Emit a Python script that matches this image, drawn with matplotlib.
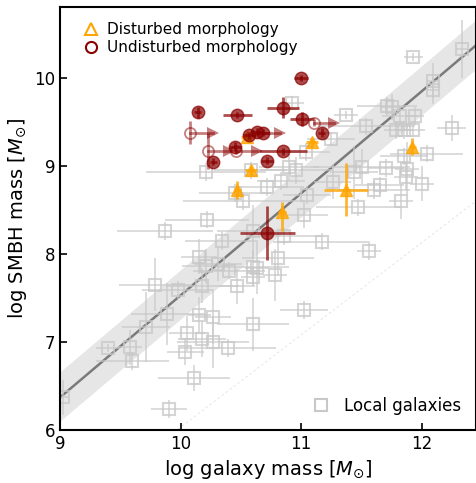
import numpy as np
import matplotlib
matplotlib.use("Agg")
import matplotlib.pyplot as plt
from matplotlib.lines import Line2D

# ── Local galaxies (log M*, log MBH, errors)
local_x = [12.33, 11.93, 12.09, 12.09, 12.25, 11.71, 11.75, 11.82, 11.94, 11.93,
           11.79, 11.85, 11.54, 11.37, 10.92, 11.25, 11.04, 10.96, 11.26, 11.50,
           11.44, 11.70, 11.88, 11.87, 12.04, 11.85, 11.65, 11.60, 11.83, 12.00,
           11.47, 11.05, 11.02, 10.90, 10.83, 10.72, 10.52, 10.45, 10.58, 10.21,
           10.22, 10.34, 10.60, 10.86, 11.17, 11.56, 10.81, 10.15, 10.21, 10.31,
           10.40, 10.60, 10.63, 10.60, 10.78, 10.47, 10.18, 9.98, 9.79, 9.87,
           9.89, 9.71, 10.05, 10.04, 10.18, 10.27, 10.39, 10.60, 10.15, 10.27,
           9.40, 9.58, 9.60, 9.02, 10.11, 9.90, 11.02]
local_y = [10.33, 10.24, 9.97, 9.86, 9.43, 9.68, 9.67, 9.57, 9.57, 9.41,
           9.41, 9.41, 9.45, 9.58, 9.72, 9.31, 9.16, 8.95, 8.82, 8.99,
           8.93, 8.98, 8.97, 8.88, 9.14, 9.11, 8.78, 8.73, 8.60, 8.80,
           8.53, 8.67, 8.44, 8.99, 8.83, 8.76, 8.60, 8.69, 8.95, 8.93,
           8.39, 8.15, 8.26, 8.20, 8.14, 8.03, 7.95, 7.97, 7.86, 7.89,
           7.81, 7.85, 7.84, 7.74, 7.76, 7.63, 7.64, 7.59, 7.65, 8.26,
           7.32, 7.17, 7.10, 6.89, 7.03, 7.00, 6.93, 7.20, 7.31, 7.28,
           6.93, 6.94, 6.78, 6.37, 6.59, 6.24, 7.36]
local_xerr = [0.05, 0.08, 0.05, 0.05, 0.12, 0.25, 0.10, 0.15, 0.08, 0.10,
              0.10, 0.08, 0.40, 0.10, 0.10, 0.20, 0.20, 0.30, 0.15, 0.40,
              0.20, 0.15, 0.10, 0.10, 0.30, 0.20, 0.20, 0.30, 0.10, 0.10,
              0.35, 0.20, 0.20, 0.25, 0.20, 0.30, 0.50, 0.30, 0.30, 0.50,
              0.35, 0.30, 0.30, 0.30, 0.40, 0.10, 0.30, 0.15, 0.20, 0.20,
              0.30, 0.30, 0.10, 0.10, 0.10, 0.15, 0.30, 0.30, 0.30, 0.40,
              0.30, 0.20, 0.15, 0.15, 0.20, 0.30, 0.40, 0.30, 0.10, 0.15,
              0.10, 0.10, 0.30, 0.05, 0.30, 0.15, 0.20]
local_yerr = [0.33, 0.05, 0.20, 0.15, 0.15, 0.10, 0.15, 0.10, 0.10, 0.08,
              0.10, 0.10, 0.10, 0.05, 0.08, 0.08, 0.10, 0.15, 0.20, 0.20,
              0.30, 0.10, 0.30, 0.15, 0.10, 0.10, 0.10, 0.10, 0.20, 0.20,
              0.10, 0.10, 0.15, 0.15, 0.10, 0.10, 0.10, 0.10, 0.10, 0.10,
              0.10, 0.10, 0.30, 0.10, 0.10, 0.10, 0.20, 0.20, 0.20, 0.20,
              0.10, 0.20, 0.30, 0.10, 0.30, 0.20, 0.20, 0.10, 0.30, 0.10,
              0.35, 0.40, 0.20, 0.15, 0.20, 0.30, 0.10, 0.30, 0.20, 0.30,
              0.05, 0.20, 0.10, 0.20, 0.15, 0.10, 0.10]

# ── Disturbed morphology
dist_x = [10.55, 10.58, 10.47, 10.84, 11.09, 11.37, 11.92]
dist_y = [9.33, 8.95, 8.73, 8.48, 9.27, 8.73, 9.22]
dist_xerr = [0.05, 0.05, 0.03, 0.03, 0.05, 0.18, 0.03]
dist_yerr_lo = [0.06, 0.05, 0.10, 0.22, 0.05, 0.30, 0.10]
dist_yerr_hi = [0.06, 0.05, 0.10, 0.11, 0.05, 0.30, 0.10]

# ── Undisturbed morphology (detections)
und_x = [11.00, 10.14, 10.47, 10.85, 11.01, 11.17, 10.57, 10.63, 10.68,
         10.45, 10.85, 10.72, 10.27, 10.72]
und_y = [10.00, 9.61, 9.58, 9.66, 9.53, 9.38, 9.35, 9.39, 9.38,
         9.22, 9.17, 9.06, 9.05, 8.24]
und_xerr = [0.06, 0.03, 0.12, 0.13, 0.10, 0.03, 0.05, 0.05, 0.05,
            0.05, 0.20, 0.05, 0.03, 0.23]
und_yerr = [0.03, 0.06, 0.03, 0.12, 0.08, 0.05, 0.04, 0.04, 0.04,
            0.05, 0.04, 0.04, 0.04, 0.31]

# ── Undisturbed morphology (lower limits on galaxy mass)
lim_x = [10.08, 10.23, 10.46, 11.11]
lim_y = [9.38, 9.17, 9.17, 9.49]
lim_yerr = [0.13, 0.20, 0.03, 0.04]
lim_arrow = [10.27, 10.40, 10.63, 11.27]
# arrow attached to the filled cluster
clu_x, clu_y, clu_arrow = 10.68, 9.38, 10.82

# ── Scaling relations
rel_a, rel_b, rel_scatter = 8.69, 1.16, 0.28
low_a, low_b = 7.08, 1.05

DARKRED = "#8b0000"
ORANGE = "#ffa500"
GREY = "#c8c8c8"

fig = plt.figure(figsize=(4.77, 4.83), dpi=100)
ax = fig.add_axes([0.126, 0.110, 0.872, 0.876])

xs = np.linspace(8.5, 13, 200)
ax.fill_between(xs, rel_a + rel_b * (xs - 11) - rel_scatter,
                rel_a + rel_b * (xs - 11) + rel_scatter,
                color="#e6e6e6", lw=0, zorder=0)
ax.plot(xs, rel_a + rel_b * (xs - 11), color="#7a7a7a", lw=1.8, zorder=1)
ax.plot(xs, low_a + low_b * (xs - 11), color="#e0e0e0", lw=0.6,
        ls=(0, (3, 3)), zorder=0)

ax.errorbar(local_x, local_y, xerr=local_xerr, yerr=local_yerr, fmt="s",
            mfc="none", mec=GREY, mew=1.5, ms=8, ecolor=GREY, elinewidth=1.2,
            alpha=0.75, zorder=2)

for x, y, xe, yl, yh in zip(dist_x, dist_y, dist_xerr, dist_yerr_lo, dist_yerr_hi):
    ax.errorbar(x, y, xerr=xe, yerr=[[yl], [yh]], fmt="^", color=ORANGE,
                ms=8, elinewidth=2, alpha=0.8, zorder=4)

for x, y, ya in zip(lim_x, lim_y, lim_arrow):
    ax.plot([x, ya], [y, y], color=DARKRED, lw=2, alpha=0.5, zorder=3)
    ax.plot(ya, y, ">", color=DARKRED, ms=9, alpha=0.5, mew=0, zorder=3)
ax.plot([clu_x, clu_arrow], [clu_y, clu_y], color=DARKRED, lw=2, alpha=0.5, zorder=3)
ax.plot(clu_arrow, clu_y, ">", color=DARKRED, ms=9, alpha=0.5, mew=0, zorder=3)

ax.errorbar(lim_x, lim_y, yerr=lim_yerr, fmt="o", mfc="none", mec=DARKRED,
            mew=1.3, ms=8, ecolor=DARKRED, elinewidth=2, alpha=0.5, zorder=3)
ax.errorbar(und_x, und_y, xerr=und_xerr, yerr=und_yerr, fmt="o",
            color=DARKRED, ms=9, elinewidth=2, alpha=0.7, zorder=5)

ax.set_xlim(9, 12.45)
ax.set_ylim(6, 10.81)
ax.set_xticks([9, 10, 11, 12])
ax.set_yticks([6, 7, 8, 9, 10])
ax.tick_params(direction="in", labelsize=12, length=5, width=1.2)
for s in ax.spines.values():
    s.set_linewidth(1.5)
ax.set_xlabel(r"log galaxy mass [$M_{\odot}$]", fontsize=14)
ax.set_ylabel(r"log SMBH mass [$M_{\odot}$]", fontsize=14)

h1 = Line2D([], [], marker="^", ls="none", mfc="none", mec=ORANGE, mew=1.5, ms=8)
h2 = Line2D([], [], marker="o", ls="none", mfc="none", mec=DARKRED, mew=1.5, ms=8)
leg1 = ax.legend([h1, h2], ["Disturbed morphology", "Undisturbed morphology"],
                 loc="upper left", frameon=False, fontsize=11,
                 handletextpad=0.1, borderaxespad=0.6, labelspacing=0.2)
ax.add_artist(leg1)
h3 = Line2D([], [], marker="s", ls="none", mfc="none", mec=GREY, mew=1.5, ms=8)
ax.legend([h3], ["Local galaxies"], loc="lower right", frameon=False,
          fontsize=12, handletextpad=0.4)

plt.savefig("out.png", dpi=100)
